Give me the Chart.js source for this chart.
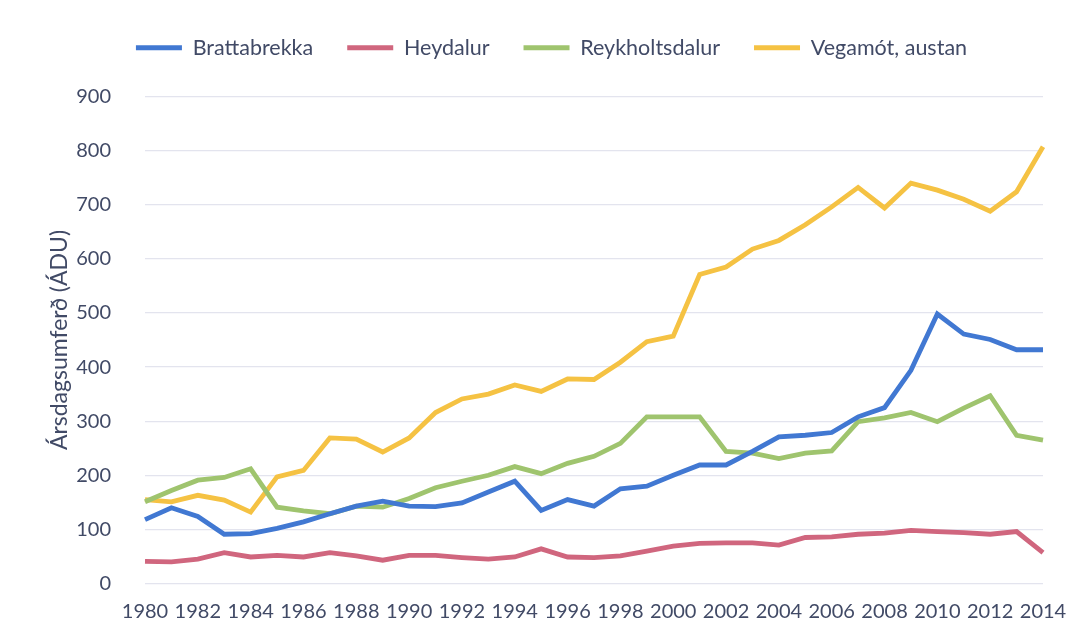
<!DOCTYPE html>
<html>
<head>
<meta charset="utf-8">
<script src="https://cdn.jsdelivr.net/npm/chart.js@4"></script>
<style>
  html, body { margin: 0; padding: 0; background: #ffffff; }
  #wrap { width: 1083px; height: 640px; }
</style>
</head>
<body>
<div id="wrap"><canvas id="trafficChart" width="1083" height="640"></canvas></div>
<script>
const years = [];
for (let y = 1980; y <= 2014; y++) years.push(String(y));

const brattabrekka = [118,140,124,91,92,102,114,129,143,152,143,142,149,169,189,135,155,143,175,180,200,219,219,244,271,274,279,308,325,394,498,461,451,432,432];
const heydalur = [41,40,45,57,49,52,49,57,51,43,52,52,48,45,49,64,49,48,51,60,69,74,75,75,71,85,86,91,93,98,96,94,91,96,57];
const reykholtsdalur = [151,172,191,196,212,141,134,129,143,141,157,177,189,200,216,203,222,235,259,308,308,308,244,241,231,241,245,299,306,316,299,324,347,274,265];
const vegamot = [155,151,163,154,132,197,209,269,267,243,269,316,341,350,367,355,378,377,409,447,457,571,585,618,634,663,696,732,694,740,727,710,688,724,807];

const seriesNames = ["Brattabrekka", "Heydalur", "Reykholtsdalur", "Vegamót, austan"];
const yTicks = [0,100,200,300,400,500,600,700,800,900];

const textColor = "#414a66";
const fontFamily = "Lato, 'Open Sans', sans-serif";

function line(label, data, color) {
    return {
        label: label,
        data: data,
        borderColor: color,
        backgroundColor: color,
        borderWidth: 4.8,
        pointRadius: 0,
        tension: 0,
        fill: false
    };
}

// nudge the legend: more room under it, and a bit to the right
const legendNudge = {
    id: 'legendNudge',
    afterInit(chart) {
        const lg = chart.legend;
        const fit = lg.fit.bind(lg);
        lg.fit = function() { fit(); this.height += 28; };
        const draw = lg.draw.bind(lg);
        lg.draw = function() {
            chart.ctx.save();
            chart.ctx.translate(30, 0);
            draw();
            chart.ctx.restore();
        };
    }
};

const ctx = document.getElementById('trafficChart').getContext('2d');
new Chart(ctx, {
    type: 'line',
    data: {
        labels: years,
        datasets: [
            line(seriesNames[0], brattabrekka, '#4178d2'),
            line(seriesNames[1], heydalur, '#d0667e'),
            line(seriesNames[2], reykholtsdalur, '#9fc46e'),
            line(seriesNames[3], vegamot, '#f5c243')
        ]
    },
    plugins: [legendNudge],
    options: {
        responsive: false,
        animation: false,
        layout: { padding: { left: 0, right: 40, top: 3, bottom: 0 } },
        plugins: {
            legend: {
                position: 'top',
                labels: {
                    color: textColor,
                    font: { family: fontFamily, size: 21.5 },
                    boxWidth: 46,
                    boxHeight: 5,
                    padding: 34,
                    generateLabels: function(chart) {
                        return Chart.defaults.plugins.legend.labels.generateLabels(chart).map(function(l) {
                            l.lineWidth = 0;
                            l.fillStyle = l.strokeStyle;
                            return l;
                        });
                    }
                }
            },
            tooltip: { enabled: false }
        },
        scales: {
            x: {
                grid: { display: false, drawTicks: false },
                border: { display: false },
                ticks: {
                    color: textColor,
                    font: { family: fontFamily, size: 20 },
                    padding: 16,
                    autoSkip: false,
                    maxRotation: 0,
                    callback: function(value, index) {
                        return index % 2 === 0 ? years[index] : '';
                    }
                },
                afterFit: function(scale) { scale.height = 56.5; }
            },
            y: {
                min: 0,
                max: 900,
                afterBuildTicks: function(scale) {
                    scale.ticks = yTicks.map(v => ({ value: v }));
                },
                grid: { color: '#e3e4ee', lineWidth: 1.2, drawTicks: false },
                border: { display: false },
                ticks: {
                    color: textColor,
                    font: { family: fontFamily, size: 20 },
                    padding: 34
                },
                title: {
                    display: true,
                    text: 'Ársdagsumferð (ÁDU)',
                    color: textColor,
                    font: { family: fontFamily, size: 23 },
                    padding: { top: 46, bottom: 0 }
                },
                afterFit: function(scale) { scale.width = 145; }
            }
        }
    }
});
</script>
</body>
</html>
